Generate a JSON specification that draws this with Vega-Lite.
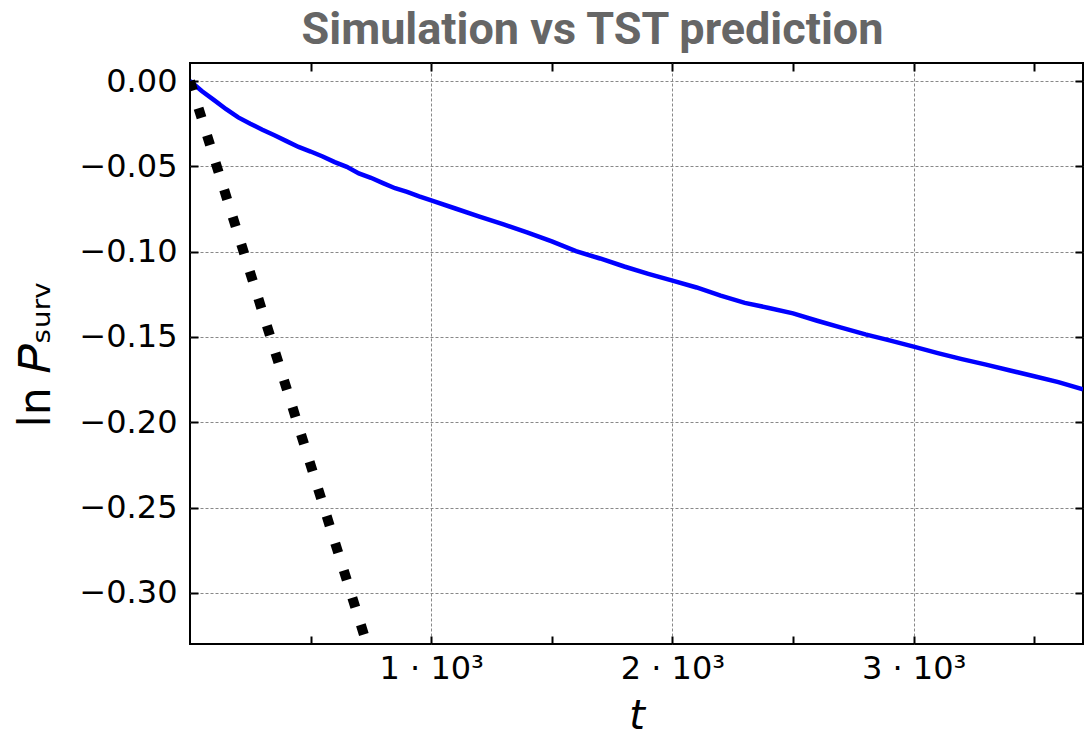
{
  "$schema": "https://vega.github.io/schema/vega-lite/v6.json",
  "autosize": {"type": "none"},
  "padding": {"left": 190, "top": 63, "right": 2, "bottom": 94},
  "width": 893,
  "height": 581,
  "background": "white",
  "config": {
    "view": {"stroke": "black", "strokeWidth": 2},
    "font": "DejaVu Sans"
  },
  "title": {
    "text": "Simulation vs TST prediction",
    "font": "Roboto",
    "fontSize": 45,
    "fontWeight": "bold",
    "color": "#666666",
    "anchor": "middle",
    "frame": "group",
    "dx": -44,
    "dy": 47,
    "baseline": "alphabetic",
    "offset": 20
  },
  "datasets": {
    "simulation": [
      {"t": 0, "lnP": 0},
      {"t": 50, "lnP": -0.006},
      {"t": 100, "lnP": -0.0112},
      {"t": 150, "lnP": -0.0165},
      {"t": 200, "lnP": -0.0213},
      {"t": 250, "lnP": -0.025},
      {"t": 300, "lnP": -0.0285},
      {"t": 350, "lnP": -0.0318},
      {"t": 400, "lnP": -0.0352},
      {"t": 450, "lnP": -0.0386},
      {"t": 500, "lnP": -0.0413},
      {"t": 550, "lnP": -0.0442},
      {"t": 600, "lnP": -0.0475},
      {"t": 650, "lnP": -0.0503},
      {"t": 700, "lnP": -0.0541},
      {"t": 750, "lnP": -0.0567},
      {"t": 800, "lnP": -0.0598},
      {"t": 850, "lnP": -0.0628},
      {"t": 900, "lnP": -0.065},
      {"t": 950, "lnP": -0.0676},
      {"t": 1000, "lnP": -0.07},
      {"t": 1100, "lnP": -0.0747},
      {"t": 1200, "lnP": -0.0795},
      {"t": 1300, "lnP": -0.084},
      {"t": 1400, "lnP": -0.0888},
      {"t": 1500, "lnP": -0.094},
      {"t": 1600, "lnP": -0.0997},
      {"t": 1700, "lnP": -0.104},
      {"t": 1800, "lnP": -0.1087},
      {"t": 1900, "lnP": -0.113},
      {"t": 2000, "lnP": -0.117},
      {"t": 2100, "lnP": -0.121},
      {"t": 2200, "lnP": -0.1258},
      {"t": 2300, "lnP": -0.13},
      {"t": 2400, "lnP": -0.133},
      {"t": 2500, "lnP": -0.1362},
      {"t": 2600, "lnP": -0.1405},
      {"t": 2700, "lnP": -0.1445},
      {"t": 2800, "lnP": -0.1485},
      {"t": 2900, "lnP": -0.152},
      {"t": 3000, "lnP": -0.1557},
      {"t": 3100, "lnP": -0.1595},
      {"t": 3200, "lnP": -0.163},
      {"t": 3300, "lnP": -0.1662},
      {"t": 3400, "lnP": -0.1697},
      {"t": 3500, "lnP": -0.173},
      {"t": 3600, "lnP": -0.1765},
      {"t": 3702, "lnP": -0.1807}
    ],
    "tst": [
      {"t": 0, "lnP": 0},
      {"t": 745, "lnP": -0.3353}
    ]
  },
  "resolve": {"axis": {"x": "independent", "y": "independent"}},
  "layer": [
    {
      "data": {"name": "simulation"},
      "mark": {"type": "line", "color": "#0000ff", "strokeWidth": 4.5, "clip": true},
      "encoding": {
        "x": {
          "field": "t",
          "type": "quantitative",
          "scale": {"domain": [0, 3702], "nice": false, "zero": false},
          "axis": {
            "orient": "bottom",
            "values": [500, 1000, 1500, 2000, 2500, 3000, 3500],
            "labelExpr": "datum.value % 1000 === 0 ? (datum.value / 1000) + ' · 10³' : ''",
            "labelFont": "DejaVu Sans",
            "labelFontSize": 32,
            "labelColor": "black",
            "labelPadding": 17,
            "labelFlush": false,
            "domain": false,
            "ticks": true,
            "tickSize": -8,
            "tickWidth": 2,
            "tickColor": "black",
            "grid": true,
            "gridColor": "#888888",
            "gridDash": [3, 2],
            "gridWidth": 1,
            "gridOpacity": {"condition": {"test": "datum.value % 1000 !== 0", "value": 0}, "value": 1},
            "title": "t",
            "titleFont": "DejaVu Sans",
            "titleFontSize": 40,
            "titleFontStyle": "italic",
            "titleFontWeight": "normal",
            "titleColor": "black",
            "titlePadding": 12
          }
        },
        "y": {
          "field": "lnP",
          "type": "quantitative",
          "scale": {"domain": [-0.33, 0.0106], "nice": false, "zero": false},
          "axis": {
            "orient": "left",
            "values": [-0.3, -0.25, -0.2, -0.15, -0.1, -0.05, 0],
            "format": ".2f",
            "labelFont": "DejaVu Sans",
            "labelFontSize": 32,
            "labelColor": "black",
            "labelPadding": 21,
            "labelFlush": false,
            "domain": false,
            "tickSize": -8,
            "tickWidth": 2,
            "tickColor": "black",
            "grid": true,
            "gridColor": "#888888",
            "gridDash": [3, 2],
            "gridWidth": 1,
            "title": "ln \ud835\udc43\u209b\u1d64\u1d63\u1d65",
            "titleFont": "DejaVu Sans",
            "titleFontSize": 44,
            "titleFontWeight": "normal",
            "titleColor": "black",
            "titlePadding": 20
          }
        }
      }
    },
    {
      "data": {"name": "tst"},
      "mark": {"type": "line", "color": "black", "strokeWidth": 10, "strokeDash": [10, 18.5], "strokeCap": "butt", "clip": true},
      "encoding": {
        "x": {
          "field": "t",
          "type": "quantitative",
          "axis": {
            "orient": "top",
            "values": [500, 1000, 1500, 2000, 2500, 3000, 3500],
            "labels": false,
            "domain": false,
            "grid": false,
            "tickSize": -8,
            "tickWidth": 2,
            "tickColor": "black",
            "title": null
          }
        },
        "y": {
          "field": "lnP",
          "type": "quantitative",
          "axis": {
            "orient": "right",
            "values": [-0.3, -0.25, -0.2, -0.15, -0.1, -0.05, 0],
            "labels": false,
            "domain": false,
            "grid": false,
            "tickSize": -8,
            "tickWidth": 2,
            "tickColor": "black",
            "title": null
          }
        }
      }
    }
  ]
}
